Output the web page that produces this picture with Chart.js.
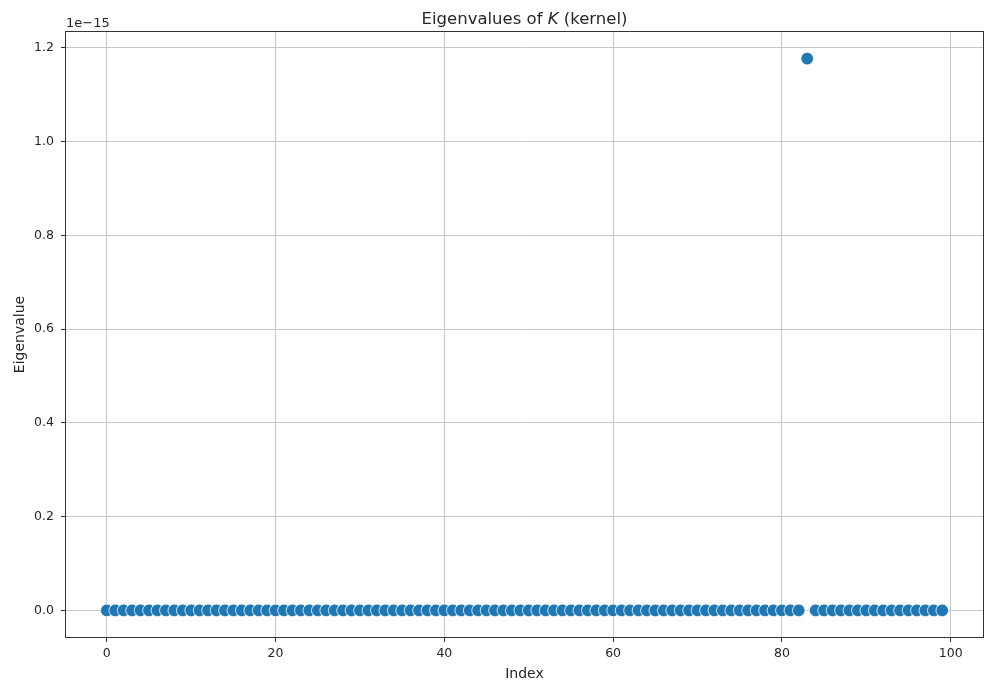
<!DOCTYPE html>
<html>
<head>
<meta charset="utf-8">
<script src="https://cdn.jsdelivr.net/npm/chart.js@4"></script>
<style>
  html, body { margin: 0; padding: 0; background: #fff; }
  #wrap { width: 987px; height: 683px; }
</style>
</head>
<body>
<div id="wrap"><canvas id="c" width="987" height="683"></canvas></div>
<script>
// Eigenvalues of the kernel matrix K, in units of 1e-15
const indices = Array.from({ length: 100 }, (_, i) => i);
const eigenvalues = [
  0, 0, 0, 0, 0, 0, 0, 0, 0, 0,
  0, 0, 0, 0, 0, 0, 0, 0, 0, 0,
  0, 0, 0, 0, 0, 0, 0, 0, 0, 0,
  0, 0, 0, 0, 0, 0, 0, 0, 0, 0,
  0, 0, 0, 0, 0, 0, 0, 0, 0, 0,
  0, 0, 0, 0, 0, 0, 0, 0, 0, 0,
  0, 0, 0, 0, 0, 0, 0, 0, 0, 0,
  0, 0, 0, 0, 0, 0, 0, 0, 0, 0,
  0, 0, 0, 1.177, 0, 0, 0, 0, 0, 0,
  0, 0, 0, 0, 0, 0, 0, 0, 0, 0
];
const xTicks = [0, 20, 40, 60, 80, 100];
const yTicks = [0.0, 0.2, 0.4, 0.6, 0.8, 1.0, 1.2];
const offsetLabel = '1e\u221215';

const TEXT = '#262626';
const FONT = '"DejaVu Sans", sans-serif';

// 5% margins around the data on both axes
const xMin = Math.min(...indices), xMax = Math.max(...indices);
const yMin = Math.min(...eigenvalues), yMax = Math.max(...eigenvalues);
const xPad = (xMax - xMin) * 0.05, yPad = (yMax - yMin) * 0.05;

const framePlugin = {
  id: 'frame',
  afterDraw(chart) {
    const { ctx, chartArea: a } = chart;
    ctx.save();
    ctx.strokeStyle = '#333';
    ctx.lineWidth = 1;
    ctx.strokeRect(Math.round(a.left) + 0.5, Math.round(a.top) + 0.5,
                   Math.round(a.right - a.left) - 1, Math.round(a.bottom - a.top) - 1);
    // offset text of the y axis
    ctx.fillStyle = TEXT;
    ctx.font = '13px ' + FONT;
    ctx.textAlign = 'left';
    ctx.textBaseline = 'alphabetic';
    ctx.fillText(offsetLabel, a.left + 1, a.top - 4);
    // title with italic K
    const parts = [
      { t: 'Eigenvalues of ', f: '16.5px ' + FONT },
      { t: 'K', f: 'italic 16.5px ' + FONT },
      { t: ' (kernel)', f: '16.5px ' + FONT }
    ];
    let w = 0;
    parts.forEach(p => { ctx.font = p.f; p.w = ctx.measureText(p.t).width; w += p.w; });
    let x = (a.left + a.right) / 2 - w / 2;
    parts.forEach(p => { ctx.font = p.f; ctx.fillText(p.t, x, 24); x += p.w; });
    ctx.restore();
  }
};

new Chart(document.getElementById('c'), {
  type: 'scatter',
  data: {
    datasets: [{
      data: indices.map((i, k) => ({ x: i, y: eigenvalues[k] })),
      backgroundColor: '#1f77b4',
      borderColor: '#ffffff',
      borderWidth: 0.8,
      pointRadius: 6.3,
      pointHoverRadius: 6.3
    }]
  },
  options: {
    responsive: false,
    animation: false,
    devicePixelRatio: 1,
    layout: { autoPadding: false, padding: { top: 31, right: 3, left: 0, bottom: 0 } },
    plugins: { legend: { display: false }, tooltip: { enabled: false }, title: { display: false } },
    scales: {
      x: {
        type: 'linear',
        min: xMin - xPad,
        max: xMax + xPad,
        afterBuildTicks: s => { s.ticks = xTicks.map(v => ({ value: v })); },
        afterFit: s => { s.height = 45; s.paddingLeft = 0; s.paddingRight = 0; },
        grid: { color: '#c8c8c8', lineWidth: 1, tickColor: '#333', tickLength: 4, drawTicks: true },
        border: { display: false },
        ticks: { color: TEXT, font: { family: FONT, size: 12.5 }, padding: 4, maxRotation: 0,
                 callback: v => String(v) },
        title: { display: true, text: 'Index', color: TEXT, font: { family: FONT, size: 14 },
                 padding: { top: 2, bottom: 0 } }
      },
      y: {
        type: 'linear',
        min: yMin - yPad,
        max: yMax + yPad,
        afterBuildTicks: s => { s.ticks = yTicks.map(v => ({ value: v })); },
        afterFit: s => { s.width = 65; s.paddingTop = 0; s.paddingBottom = 0; },
        grid: { color: '#c8c8c8', lineWidth: 1, tickColor: '#333', tickLength: 4, drawTicks: true },
        border: { display: false },
        ticks: { color: TEXT, font: { family: FONT, size: 12.5 }, padding: 7,
                 callback: v => Number(v).toFixed(1) },
        title: { display: true, text: 'Eigenvalue', color: TEXT, font: { family: FONT, size: 14 },
                 padding: { top: 12, bottom: 0 } }
      }
    }
  },
  plugins: [framePlugin]
});
</script>
</body>
</html>
